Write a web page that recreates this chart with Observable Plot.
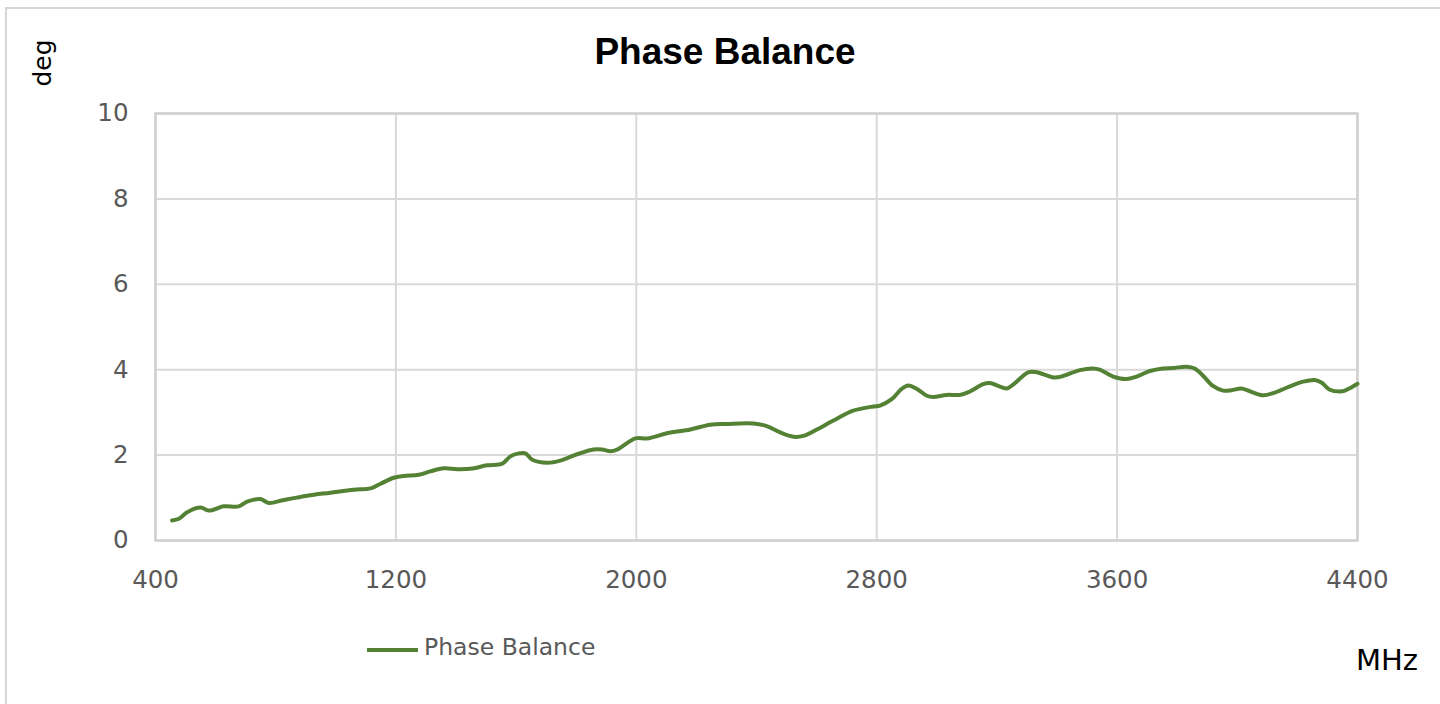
<!DOCTYPE html>
<html>
<head>
<meta charset="utf-8">
<script src="https://cdn.jsdelivr.net/npm/d3@7"></script>
<script src="https://cdn.jsdelivr.net/npm/@observablehq/plot@0.6"></script>
<style>
  html, body { margin: 0; padding: 0; background: #fff; overflow: hidden; }
  #wrap { position: relative; width: 1440px; height: 704px; }
  #border { position: absolute; left: 5px; top: 7px; width: 1500px; height: 800px; border: 2px solid #d6d6d6; box-sizing: border-box; }
  #chart { position: absolute; left: 0; top: 0; }
  .lbl { position: absolute; white-space: nowrap; }
  #title { left: 0; width: 1450px; top: 31px; text-align: center; font: bold 37px "Liberation Sans", Arial, sans-serif; color: #000; }
  #ylab { left: 42px; top: 63px; transform: translate(-50%, -50%) rotate(-90deg); font: 25px "DejaVu Sans", sans-serif; color: #000; }
  #xlab { left: 1356px; top: 643px; font: 29px "DejaVu Sans", sans-serif; color: #000; }
  #legline { position: absolute; left: 367px; top: 648px; width: 51px; height: 3.5px; background: #548235; }
  #legtxt { left: 424px; top: 633px; font: 23.5px "DejaVu Sans", sans-serif; color: #595959; }
</style>
</head>
<body>
<div id="wrap">
  <div id="border"></div>
  <div id="chart"></div>
  <div id="title" class="lbl">Phase Balance</div>
  <div id="ylab" class="lbl">deg</div>
  <div id="xlab" class="lbl">MHz</div>
  <div id="legline"></div>
  <div id="legtxt" class="lbl">Phase Balance</div>
</div>
<script>
const freqMHz = [455, 478, 505, 550, 577, 627, 677, 705, 749, 777, 827, 905, 982, 1060, 1116, 1149, 1193, 1226, 1276, 1315, 1359, 1404, 1448, 1504, 1554, 1581, 1609, 1631, 1654, 1704, 1747, 1803, 1858, 1886, 1914, 1936, 1997, 2036, 2102, 2180, 2246, 2301, 2390, 2434, 2479, 2523, 2556, 2601, 2656, 2722, 2789, 2811, 2850, 2883, 2905, 2934, 2967, 2988, 3033, 3077, 3110, 3154, 3177, 3204, 3232, 3254, 3304, 3332, 3387, 3415, 3476, 3520, 3542, 3587, 3631, 3665, 3709, 3753, 3786, 3831, 3858, 3886, 3919, 3953, 3981, 4014, 4047, 4086, 4119, 4175, 4219, 4258, 4280, 4308, 4341, 4358, 4400];
const phaseBalance = [0.47, 0.51, 0.66, 0.77, 0.70, 0.80, 0.80, 0.91, 0.97, 0.88, 0.95, 1.05, 1.12, 1.19, 1.22, 1.33, 1.47, 1.51, 1.54, 1.62, 1.69, 1.67, 1.68, 1.76, 1.80, 1.97, 2.04, 2.04, 1.89, 1.82, 1.87, 2.02, 2.13, 2.13, 2.09, 2.13, 2.39, 2.39, 2.51, 2.60, 2.71, 2.73, 2.74, 2.68, 2.53, 2.43, 2.45, 2.60, 2.81, 3.04, 3.14, 3.16, 3.31, 3.55, 3.63, 3.55, 3.39, 3.36, 3.41, 3.41, 3.49, 3.66, 3.69, 3.62, 3.56, 3.65, 3.94, 3.94, 3.82, 3.84, 3.99, 4.03, 4.00, 3.84, 3.78, 3.84, 3.97, 4.03, 4.04, 4.07, 4.03, 3.86, 3.62, 3.51, 3.52, 3.56, 3.48, 3.40, 3.45, 3.61, 3.72, 3.76, 3.70, 3.53, 3.49, 3.51, 3.67];
const xTicks = [400, 1200, 2000, 2800, 3600, 4400];
const yTicks = [0, 2, 4, 6, 8, 10];

const data = freqMHz.map((f, i) => ({f, v: phaseBalance[i]}));

const chart = Plot.plot({
  width: 1440,
  height: 704,
  marginLeft: 155,
  marginRight: 83,
  marginTop: 113,
  marginBottom: 164,
  style: {background: "transparent", fontFamily: "DejaVu Sans, sans-serif", fontSize: "24px", color: "#595959"},
  x: {domain: [400, 4400], ticks: xTicks, tickFormat: d => String(d), tickSize: 0, tickPadding: 30, label: null},
  y: {domain: [0, 10], ticks: yTicks, tickFormat: d => String(d), tickSize: 0, tickPadding: 27, label: null},
  marks: [
    Plot.gridX(xTicks, {stroke: "#d9d9d9", strokeOpacity: 1, strokeWidth: 2}),
    Plot.gridY(yTicks, {stroke: "#d9d9d9", strokeOpacity: 1, strokeWidth: 2}),
    Plot.frame({stroke: "#d0d0d0", strokeWidth: 2.5}),
    Plot.axisX(xTicks, {tickSize: 0, tickPadding: 30, tickFormat: d => String(d), fill: "#595959", fontSize: 24.5}),
    Plot.axisY(yTicks, {tickSize: 0, tickPadding: 27, tickFormat: d => String(d), fill: "#595959", fontSize: 24.5}),
    Plot.line(data, {x: "f", y: "v", stroke: "#548235", strokeWidth: 4, curve: "catmull-rom"})
  ]
});
document.getElementById("chart").appendChild(chart);
</script>
</body>
</html>
